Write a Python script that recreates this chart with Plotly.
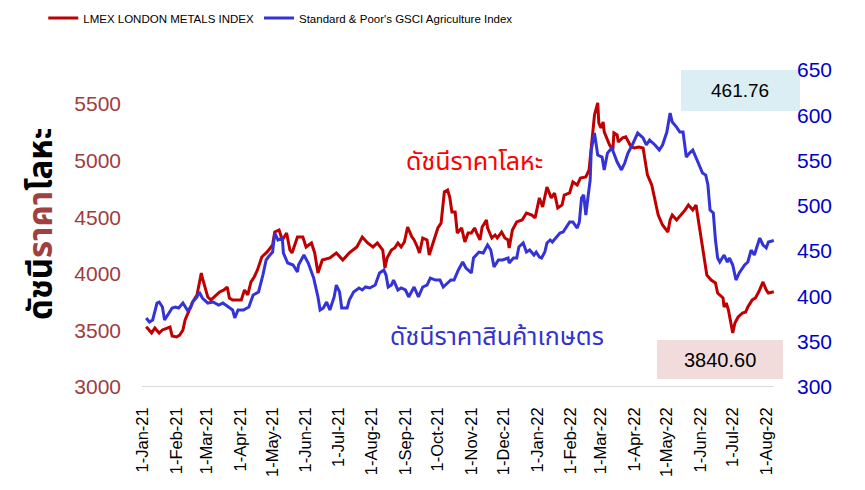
import plotly.graph_objects as go

# LMEX London Metals Index (left axis)
metals_dates = [
    "2021-01-04", "2021-01-09", "2021-01-12", "2021-01-16", "2021-01-19", "2021-01-26", "2021-01-28",
    "2021-02-01", "2021-02-04", "2021-02-07", "2021-02-09", "2021-02-11", "2021-02-16", "2021-02-20",
    "2021-02-22", "2021-02-24", "2021-02-25", "2021-02-27",
    "2021-03-02", "2021-03-05", "2021-03-10", "2021-03-13", "2021-03-17", "2021-03-20", "2021-03-22", "2021-03-25",
    "2021-04-02", "2021-04-05", "2021-04-08", "2021-04-11", "2021-04-14", "2021-04-17", "2021-04-21", "2021-04-26",
    "2021-05-01", "2021-05-03", "2021-05-07", "2021-05-10", "2021-05-14", "2021-05-17", "2021-05-19", "2021-05-24",
    "2021-05-29",
    "2021-06-01", "2021-06-06", "2021-06-09", "2021-06-12", "2021-06-16", "2021-06-23", "2021-06-29",
    "2021-07-05", "2021-07-11", "2021-07-18", "2021-07-23", "2021-07-28",
    "2021-08-02", "2021-08-06", "2021-08-11", "2021-08-13", "2021-08-15", "2021-08-19", "2021-08-22", "2021-08-25",
    "2021-08-28", "2021-08-31",
    "2021-09-03", "2021-09-07", "2021-09-09", "2021-09-12", "2021-09-14", "2021-09-17", "2021-09-21", "2021-09-23",
    "2021-09-26",
    "2021-10-01", "2021-10-04", "2021-10-07", "2021-10-10", "2021-10-12", "2021-10-14", "2021-10-17", "2021-10-19",
    "2021-10-23", "2021-10-26", "2021-10-29",
    "2021-11-01", "2021-11-04", "2021-11-06", "2021-11-09", "2021-11-11", "2021-11-15", "2021-11-16", "2021-11-20",
    "2021-11-23", "2021-11-25", "2021-11-29",
    "2021-12-02", "2021-12-05", "2021-12-06", "2021-12-09", "2021-12-13", "2021-12-18", "2021-12-22", "2021-12-27",
    "2021-12-30",
    "2022-01-03", "2022-01-06", "2022-01-10", "2022-01-14", "2022-01-17", "2022-01-20", "2022-01-24", "2022-01-26",
    "2022-01-31",
    "2022-02-03", "2022-02-07", "2022-02-10", "2022-02-15", "2022-02-18", "2022-02-21", "2022-02-23", "2022-02-26",
    "2022-02-27",
    "2022-03-01", "2022-03-03", "2022-03-04", "2022-03-08", "2022-03-09", "2022-03-12", "2022-03-13", "2022-03-16",
    "2022-03-17", "2022-03-21", "2022-03-24", "2022-03-27", "2022-03-29",
    "2022-04-01", "2022-04-05", "2022-04-09", "2022-04-11", "2022-04-13", "2022-04-17", "2022-04-20", "2022-04-23",
    "2022-04-27", "2022-04-30",
    "2022-05-02", "2022-05-04", "2022-05-06", "2022-05-10", "2022-05-14", "2022-05-18", "2022-05-21", "2022-05-25",
    "2022-05-28", "2022-05-31",
    "2022-06-02", "2022-06-04", "2022-06-07", "2022-06-11", "2022-06-15", "2022-06-17", "2022-06-22", "2022-06-23",
    "2022-06-25", "2022-06-27", "2022-06-29",
    "2022-07-01", "2022-07-03", "2022-07-06", "2022-07-10", "2022-07-13", "2022-07-15", "2022-07-19", "2022-07-22",
    "2022-07-25", "2022-07-29",
    "2022-08-01", "2022-08-03", "2022-08-07", "2022-08-08",
]
metals_values = [
    3533, 3477, 3521, 3477, 3504, 3530, 3451,
    3442, 3459, 3504, 3592, 3636, 3751, 3813, 3928, 4007, 3963, 3901,
    3795, 3769, 3813, 3839, 3857, 3883, 3786, 3769,
    3769, 3857, 3813, 3928, 3972, 4034, 4148, 4193,
    4254, 4369, 4387, 4299, 4360, 4210, 4184, 4325, 4325,
    4237, 4272, 4184, 4007, 4122, 4140, 4184,
    4122, 4184, 4237, 4325, 4272,
    4237, 4272, 4210, 4051, 4140, 4210, 4228, 4272, 4237, 4281,
    4413, 4325, 4299, 4237, 4184, 4316, 4299, 4166, 4254,
    4405, 4449, 4723, 4740, 4678, 4546, 4546, 4360, 4405, 4281, 4360,
    4360, 4405, 4360, 4299, 4413, 4475, 4405, 4316, 4343, 4316, 4369,
    4316, 4299, 4228, 4387, 4458, 4475, 4537, 4519, 4493,
    4670, 4590, 4767, 4670, 4714, 4581, 4608, 4696, 4714,
    4811, 4784, 4846, 4855, 4917, 5208, 5403, 5509, 5332,
    5288, 5341, 5253, 5164, 5138, 5094, 5244, 5226, 5164, 5200, 5209, 5155, 5120,
    5111, 5120, 5111, 5005, 4873, 4784, 4652, 4519, 4431, 4387,
    4369, 4475, 4519, 4475, 4519, 4564, 4608, 4564, 4608, 4431,
    4299, 4166, 3989, 3945, 3919, 3830, 3786, 3707, 3742, 3680, 3592,
    3477, 3565, 3618, 3654, 3663, 3707, 3769, 3786, 3839, 3928,
    3857, 3830, 3839, 3840.60,
]

# S&P GSCI Agriculture Index (right axis)
agri_dates = [
    "2021-01-04", "2021-01-07", "2021-01-10", "2021-01-14", "2021-01-16", "2021-01-19", "2021-01-21", "2021-01-24",
    "2021-01-28", "2021-01-31",
    "2021-02-03", "2021-02-07", "2021-02-11", "2021-02-14", "2021-02-16", "2021-02-20", "2021-02-22", "2021-02-25",
    "2021-03-02", "2021-03-07", "2021-03-12", "2021-03-16", "2021-03-21", "2021-03-25", "2021-03-27", "2021-03-30",
    "2021-04-04", "2021-04-09", "2021-04-13", "2021-04-18", "2021-04-22", "2021-04-25", "2021-04-27",
    "2021-05-01", "2021-05-03", "2021-05-06", "2021-05-10", "2021-05-11", "2021-05-15", "2021-05-20", "2021-05-24",
    "2021-05-25", "2021-05-30",
    "2021-06-03", "2021-06-08", "2021-06-12", "2021-06-14", "2021-06-17", "2021-06-20", "2021-06-23", "2021-06-27",
    "2021-06-29",
    "2021-07-02", "2021-07-04", "2021-07-09", "2021-07-11", "2021-07-15", "2021-07-20", "2021-07-23", "2021-07-26",
    "2021-07-30",
    "2021-08-04", "2021-08-08", "2021-08-12", "2021-08-14", "2021-08-16", "2021-08-19", "2021-08-21", "2021-08-25",
    "2021-08-28",
    "2021-09-01", "2021-09-04", "2021-09-09", "2021-09-12", "2021-09-13", "2021-09-17", "2021-09-21", "2021-09-24",
    "2021-09-29",
    "2021-10-03", "2021-10-06", "2021-10-10", "2021-10-13", "2021-10-16", "2021-10-20", "2021-10-24", "2021-10-27",
    "2021-11-01", "2021-11-03", "2021-11-08", "2021-11-12", "2021-11-16", "2021-11-19", "2021-11-22", "2021-11-26",
    "2021-11-30",
    "2021-12-05", "2021-12-06", "2021-12-10", "2021-12-13", "2021-12-15", "2021-12-19", "2021-12-22", "2021-12-25",
    "2021-12-29", "2021-12-31",
    "2022-01-03", "2022-01-05", "2022-01-08", "2022-01-10", "2022-01-13", "2022-01-15", "2022-01-19", "2022-01-22",
    "2022-01-25", "2022-01-28", "2022-01-31",
    "2022-02-03", "2022-02-07", "2022-02-09", "2022-02-11", "2022-02-13", "2022-02-15", "2022-02-17", "2022-02-19",
    "2022-02-20", "2022-02-23", "2022-02-26",
    "2022-03-02", "2022-03-04", "2022-03-07", "2022-03-11", "2022-03-14", "2022-03-16", "2022-03-20", "2022-03-23",
    "2022-03-26", "2022-03-30",
    "2022-04-04", "2022-04-09", "2022-04-12", "2022-04-15", "2022-04-20", "2022-04-24", "2022-04-27",
    "2022-05-01", "2022-05-04", "2022-05-06", "2022-05-10", "2022-05-13", "2022-05-16", "2022-05-19", "2022-05-22",
    "2022-05-25", "2022-05-29",
    "2022-06-01", "2022-06-03", "2022-06-06", "2022-06-08", "2022-06-10", "2022-06-13", "2022-06-15", "2022-06-17",
    "2022-06-19", "2022-06-23", "2022-06-26", "2022-06-28",
    "2022-07-01", "2022-07-04", "2022-07-07", "2022-07-10", "2022-07-12", "2022-07-15", "2022-07-18", "2022-07-21",
    "2022-07-23", "2022-07-26", "2022-07-29",
    "2022-08-01", "2022-08-03", "2022-08-08",
]
agri_values = [
    376.2, 371.8, 374.0, 392.7, 393.8, 388.3, 374.0, 379.5, 387.2, 388.3,
    387.2, 392.7, 385.0, 387.2, 393.8, 399.4, 404.9, 398.3,
    392.7, 393.8, 390.5, 392.7, 388.3, 385.0, 376.2, 385.0,
    385.0, 388.3, 401.6, 404.9, 423.6, 440.2, 443.5,
    449.0, 470.0, 462.3, 464.5, 447.9, 436.9, 434.7, 427.0, 434.7, 445.7,
    436.9, 420.3, 399.4, 385.0, 387.2, 393.8, 385.0, 399.4, 412.6,
    404.9, 387.2, 387.2, 396.0, 404.9, 409.3, 407.1, 410.4, 409.3,
    412.6, 425.9, 429.2, 423.6, 410.4, 412.6, 418.1, 407.1, 409.3,
    407.1, 399.4, 410.4, 401.6, 399.4, 410.4, 412.6, 420.3, 418.1,
    418.1, 410.4, 414.8, 418.1, 418.1, 429.2, 438.0, 431.4,
    425.9, 442.4, 449.0, 447.9, 456.8, 451.2, 432.5, 440.2, 440.2,
    442.4, 436.9, 442.4, 442.4, 454.6, 459.0, 449.0, 451.2, 445.7, 449.0,
    443.5, 442.4, 449.0, 459.0, 462.3, 460.1, 465.6, 470.0, 471.1, 476.6, 482.2,
    482.2, 475.5, 482.2, 508.7, 512.0, 489.9, 509.8, 528.5, 561.6, 580.4, 556.1,
    553.9, 539.6, 558.3, 563.9, 553.9, 548.4, 539.6, 547.3, 558.3, 567.2,
    580.4, 574.9, 567.2, 572.7, 567.2, 561.6, 567.2,
    581.5, 602.5, 592.6, 587.0, 581.5, 581.5, 553.9, 558.3, 561.6, 550.6,
    542.9, 536.3, 534.0, 523.0, 495.4, 492.1, 462.3, 442.4, 438.0, 445.7, 438.0, 442.4,
    434.7, 418.1, 425.9, 431.4, 434.7, 438.0, 451.2, 445.7, 453.5, 464.5, 456.8,
    453.5, 460.1, 461.76,
]

month_ticks = [
    "2021-01-01", "2021-02-01", "2021-03-01", "2021-04-01", "2021-05-01", "2021-06-01", "2021-07-01",
    "2021-08-01", "2021-09-01", "2021-10-01", "2021-11-01", "2021-12-01", "2022-01-01", "2022-02-01",
    "2022-03-01", "2022-04-01", "2022-05-01", "2022-06-01", "2022-07-01", "2022-08-01",
]
month_labels = [
    "1-Jan-21", "1-Feb-21", "1-Mar-21", "1-Apr-21", "1-May-21", "1-Jun-21", "1-Jul-21",
    "1-Aug-21", "1-Sep-21", "1-Oct-21", "1-Nov-21", "1-Dec-21", "1-Jan-22", "1-Feb-22",
    "1-Mar-22", "1-Apr-22", "1-May-22", "1-Jun-22", "1-Jul-22", "1-Aug-22",
]
metals_ticks = [3000, 3500, 4000, 4500, 5000, 5500]
agri_ticks = [300, 350, 400, 450, 500, 550, 600, 650]

RED = "#c00000"
BLUE = "#3434d6"
SANS = "Liberation Sans, Arial, sans-serif"
THAI = "Noto Sans Thai, Loma, Tahoma, sans-serif"

PLOT_L, PLOT_R, PLOT_T, PLOT_B = 140, 790, 70, 387


def px_x(x):
    """Pixel column -> paper x for the fixed plot area."""
    return (x - PLOT_L) / (PLOT_R - PLOT_L)


def px_y(y):
    """Pixel row -> paper y for the fixed plot area."""
    return 1 - (y - PLOT_T) / (PLOT_B - PLOT_T)


fig = go.Figure()
fig.add_trace(go.Scatter(
    x=metals_dates, y=metals_values, mode="lines", name="LMEX LONDON METALS INDEX",
    line=dict(color=RED, width=3), yaxis="y",
))
fig.add_trace(go.Scatter(
    x=agri_dates, y=agri_values, mode="lines", name="Standard & Poor's GSCI Agriculture Index",
    line=dict(color=BLUE, width=3), yaxis="y2",
))

fig.update_layout(
    width=865, height=490,
    margin=dict(l=PLOT_L, r=865 - PLOT_R, t=PLOT_T, b=490 - PLOT_B, autoexpand=False),
    paper_bgcolor="white", plot_bgcolor="white",
    showlegend=True,
    legend=dict(
        orientation="h", xref="container", yref="container",
        x=0.050, y=1 - 18 / 490, xanchor="left", yanchor="middle",
        font=dict(family=SANS, size=11.5, color="black"),
        bgcolor="rgba(0,0,0,0)", traceorder="normal",
        itemwidth=30, tracegroupgap=0,
    ),
    xaxis=dict(
        type="date", range=["2020-12-29 06:00", "2022-08-23"],
        tickmode="array", tickvals=month_ticks, ticktext=month_labels,
        tickangle=-90, tickfont=dict(family=SANS, size=16.5, color="black"),
        showgrid=False, zeroline=False, showline=False, ticks="",
        ticklabelstandoff=16,
    ),
    yaxis=dict(
        range=[3000, 5800], tickmode="array", tickvals=metals_ticks,
        tickfont=dict(family=SANS, size=21, color="#9e3d3d"),
        showgrid=False, zeroline=False, showline=False, ticks="",
        ticklabelstandoff=18,
    ),
    yaxis2=dict(
        range=[300, 650], tickmode="array", tickvals=agri_ticks,
        overlaying="y", side="right",
        tickfont=dict(family=SANS, size=21, color="#0000cc"),
        showgrid=False, zeroline=False, showline=False, ticks="",
        ticklabelstandoff=6,
    ),
)

# horizontal base line along the bottom of the plot
fig.add_shape(type="line", xref="x", yref="y",
              x0="2020-12-31", x1="2022-08-08", y0=3000, y1=3000,
              line=dict(color="#d9d9d9", width=2), layer="below")

# last-value boxes
fig.add_shape(type="rect", xref="paper", yref="paper",
              x0=px_x(681), x1=px_x(800), y0=px_y(111), y1=px_y(70),
              fillcolor="#daeef3", line=dict(width=0), layer="below")
fig.add_annotation(xref="paper", yref="paper", x=px_x(740), y=px_y(90),
                   xanchor="center", yanchor="middle",
                   text="461.76", showarrow=False,
                   font=dict(family=SANS, size=19, color="black"))
fig.add_shape(type="rect", xref="paper", yref="paper",
              x0=px_x(657), x1=px_x(783), y0=px_y(379), y1=px_y(340),
              fillcolor="#f2dcdb", line=dict(width=0), layer="below")
fig.add_annotation(xref="paper", yref="paper", x=px_x(720), y=px_y(360),
                   xanchor="center", yanchor="middle",
                   text="3840.60", showarrow=False,
                   font=dict(family=SANS, size=20, color="black"))

# in-plot series labels
fig.add_annotation(xref="paper", yref="paper", x=px_x(474), y=px_y(162),
                   xanchor="center", yanchor="middle",
                   text="ดัชนีราคาโลหะ", showarrow=False,
                   font=dict(family=THAI, size=25, color="#ff0000"))
fig.add_annotation(xref="paper", yref="paper", x=px_x(497), y=px_y(337),
                   xanchor="center", yanchor="middle",
                   text="ดัชนีราคาสินค้าเกษตร", showarrow=False,
                   font=dict(family=THAI, size=25, color="#3333cc"))

# left axis title
fig.add_annotation(xref="paper", yref="paper", x=px_x(42), y=px_y(224),
                   xanchor="center", yanchor="middle",
                   text="<b>ดัชนี<span style='color:#a0413f'>ราคา</span>โลหะ</b>",
                   textangle=-90, showarrow=False,
                   font=dict(family=THAI, size=33, color="black"))

fig.write_html("out.html")
